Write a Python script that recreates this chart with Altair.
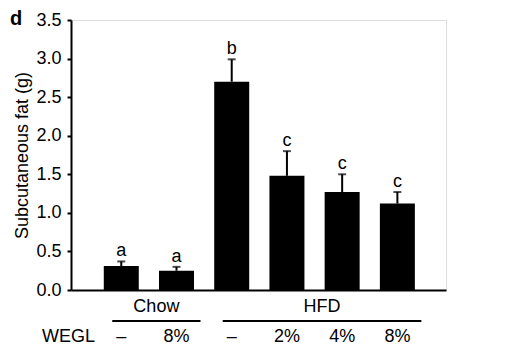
import altair as alt
import pandas as pd

# ---- data ----
idx = [0, 1, 2, 3, 4, 5]
means = [0.31, 0.25, 2.70, 1.48, 1.27, 1.12]
sems = [0.06, 0.05, 0.29, 0.32, 0.23, 0.15]
letters = ["a", "a", "b", "c", "c", "c"]
wegl = ["\u2013", "8%", "\u2013", "2%", "4%", "8%"]
y_ticks = [0, 0.5, 1, 1.5, 2, 2.5, 3, 3.5]

groups = ["Chow", "HFD"]
group_start = [0, 2]
group_end = [1, 5]

df = pd.DataFrame({"i": idx, "mean": means, "sem": sems,
                   "letter": letters, "wegl": wegl})
df["upper"] = df["mean"] + df["sem"]

gdf = pd.DataFrame({"group": groups, "start": group_start, "end": group_end})
gdf["mid"] = (gdf["start"] + gdf["end"]) / 2

W, H = 375, 270
FONT = "Liberation Sans"
FS = 18

xscale = alt.Scale(domain=[-0.82, 5.79], nice=False, zero=False)
yscale = alt.Scale(domain=[0, 3.5], nice=False)

xaxis = alt.Axis(labels=False, ticks=False, grid=False, title=None,
                 domainColor="black", domainWidth=2)
yaxis = alt.Axis(values=y_ticks, format=".1f",
                 grid=False, title="Subcutaneous fat (g)",
                 domainColor="black", domainWidth=2,
                 tickColor="black", tickWidth=2, tickSize=4,
                 labelOverlap=False, labelFlush=False,
                 labelPadding=6, labelFontSize=FS, labelFont=FONT,
                 labelColor="black", titleFontSize=FS, titleFont=FONT,
                 titleFontWeight="normal", titleColor="black",
                 titlePadding=4)


def X(field):
    return alt.X(field, scale=xscale, axis=xaxis)


def Y(field):
    return alt.Y(field, scale=yscale, axis=yaxis)


base = alt.Chart(df)

bars = base.mark_bar(size=35, color="black").encode(x=X("i:Q"), y=Y("mean:Q"))

stems = base.mark_rule(color="black", strokeWidth=2).encode(
    x=X("i:Q"), y=Y("mean:Q"), y2="upper:Q")

caps = base.mark_tick(orient="horizontal", size=8, thickness=2, color="black").encode(
    x=X("i:Q"), y=Y("upper:Q"))

lets = base.mark_text(dy=-5, baseline="alphabetic", fontSize=FS, font=FONT,
                      color="black").encode(
    x=X("i:Q"), y=Y("upper:Q"), text="letter:N")

wegl_txt = base.mark_text(baseline="middle", fontSize=FS, font=FONT,
                          color="black").encode(
    x=X("i:Q"), y=alt.value(H + 47), text="wegl:N")

wegl_head = alt.Chart(pd.DataFrame({"t": ["WEGL"]})).mark_text(
    baseline="middle", align="left", fontSize=FS, font=FONT, color="black"
).encode(x=alt.value(-29), y=alt.value(H + 47), text="t:N")

gbase = alt.Chart(gdf)
glines = gbase.mark_rule(color="black", strokeWidth=2, xOffset=-9, x2Offset=24).encode(
    x=X("start:Q"), x2="end:Q", y=alt.value(H + 31))
gtext = gbase.mark_text(baseline="middle", fontSize=FS, font=FONT, color="black",
                        dx=7.5).encode(
    x=X("mid:Q"), y=alt.value(H + 17), text="group:N")

panel = alt.Chart(pd.DataFrame({"t": ["d"]})).mark_text(
    baseline="alphabetic", align="left", fontSize=20, font=FONT,
    fontWeight="bold", color="black"
).encode(x=alt.value(-61), y=alt.value(5), text="t:N")

chart = alt.layer(bars, stems, caps, lets, wegl_txt, wegl_head, glines, gtext, panel).properties(
    width=W, height=H,
    autosize=alt.AutoSizeParams(type="none"),
    padding={"left": 71, "top": 20, "right": 61, "bottom": 64},
).configure_view(stroke=None).configure(background="white")

chart.save("out.html", embed_options={"renderer": "svg", "actions": False})
